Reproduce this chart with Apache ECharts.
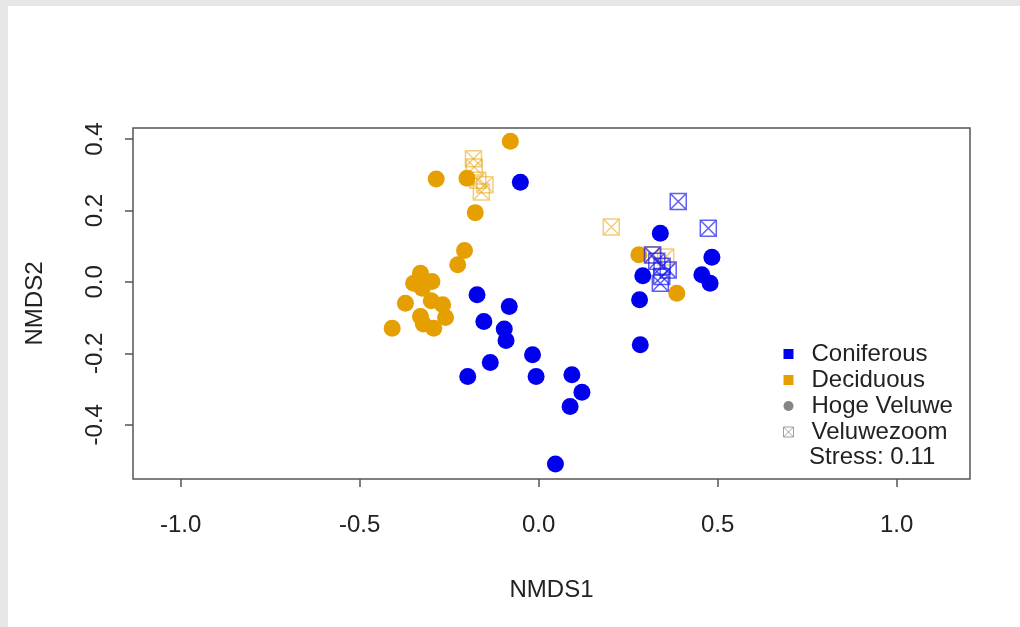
<!DOCTYPE html>
<html>
<head>
<meta charset="utf-8">
<script src="https://cdn.jsdelivr.net/npm/echarts@6/dist/echarts.min.js"></script>
<style>
  html, body { margin: 0; padding: 0; background: #e6e6e6; }
  #chart { position: absolute; left: 8px; top: 6px; width: 1012px; height: 621px; background: #fff; }
</style>
</head>
<body>
<div id="chart"></div>
<script>
// NMDS scores
const coniferousHoge = [
  [-0.051, 0.279], [-0.172, -0.036], [-0.082, -0.069], [-0.153, -0.111],
  [-0.096, -0.132], [-0.091, -0.164], [-0.017, -0.204], [-0.135, -0.226],
  [-0.198, -0.265], [-0.007, -0.265], [0.093, -0.260], [0.121, -0.309],
  [0.088, -0.349], [0.047, -0.510], [0.340, 0.136], [0.484, 0.069],
  [0.291, 0.017], [0.456, 0.020], [0.479, -0.004], [0.282, -0.050],
  [0.284, -0.176]
];
const deciduousHoge = [
  [-0.079, 0.394], [-0.286, 0.288], [-0.200, 0.290], [-0.177, 0.194],
  [-0.207, 0.088], [-0.226, 0.048], [-0.330, 0.024], [-0.349, -0.004],
  [-0.298, 0.001], [-0.325, -0.018], [-0.372, -0.060], [-0.300, -0.053],
  [-0.268, -0.064], [-0.330, -0.097], [-0.260, -0.100], [-0.293, -0.130],
  [-0.322, -0.118], [-0.409, -0.130], [0.280, 0.076], [0.386, -0.032]
];
const deciduousZoom = [
  [-0.182, 0.345], [-0.180, 0.322], [-0.170, 0.285], [-0.150, 0.272],
  [-0.160, 0.252], [0.203, 0.154], [0.320, 0.076], [0.355, 0.070]
];
const coniferousZoom = [
  [0.390, 0.225], [0.474, 0.150], [0.330, 0.058], [0.345, 0.044],
  [0.362, 0.033], [0.344, 0.015], [0.340, -0.004], [0.318, 0.075]
];
const xTicks = [-1.0, -0.5, 0.0, 0.5, 1.0];
const yTicks = [-0.4, -0.2, 0.0, 0.2, 0.4];
const stressText = 'Stress: 0.11';

const BLUE = '#0000EE';
const ORANGE = '#E69F00';
const FONT = 'Liberation Sans, Arial, sans-serif';
const squareX = 'path://M1 1H19V19H1ZM1 1L19 19M19 1L1 19';
const squareIcon = 'path://M0 0H10V10H0Z';

const chart = echarts.init(document.getElementById('chart'), null, {renderer: 'canvas'});

function circles(name, data, color) {
  return {
    type: 'scatter', name: name, data: data, symbol: 'circle', symbolSize: 17,
    itemStyle: {color: color, opacity: 1},
    emphasis: {disabled: true}, silent: true
  };
}
function squares(name, data, color) {
  return {
    type: 'scatter', name: name, data: data, symbol: squareX, symbolSize: 16,
    symbolKeepAspect: true,
    itemStyle: {color: 'rgba(0,0,0,0)', borderColor: color, borderWidth: 1.5},
    emphasis: {disabled: true}, silent: true
  };
}

const option = {
  animation: false,
  grid: {
    left: 125, top: 122, right: 50, bottom: 148,
    show: true, borderColor: '#555', borderWidth: 1.5, backgroundColor: 'transparent'
  },
  xAxis: {
    type: 'value', min: -1.133, max: 1.205,
    name: 'NMDS1', nameLocation: 'middle', nameGap: 99,
    nameTextStyle: {fontSize: 24, color: '#222', fontFamily: FONT},
    axisLine: {show: false, onZero: false},
    axisTick: {show: true, inside: false, length: 8, customValues: xTicks,
      lineStyle: {color: '#555', width: 1.5}},
    axisLabel: {customValues: xTicks, margin: 34, fontSize: 24, color: '#222', fontFamily: FONT,
      formatter: v => v.toFixed(1)},
    splitLine: {show: false}
  },
  yAxis: {
    type: 'value', min: -0.552, max: 0.431,
    name: 'NMDS2', nameLocation: 'middle', nameGap: 86,
    nameTextStyle: {fontSize: 24, color: '#222', fontFamily: FONT},
    axisLine: {show: false, onZero: false},
    axisTick: {show: true, inside: false, length: 8, customValues: yTicks,
      lineStyle: {color: '#555', width: 1.5}},
    axisLabel: {customValues: yTicks, margin: 26, rotate: 90, fontSize: 24, color: '#222', fontFamily: FONT,
      formatter: v => v.toFixed(1)},
    splitLine: {show: false}
  },
  legend: {
    orient: 'vertical', left: 775, top: 335, padding: 0, itemGap: 0,
    itemWidth: 36, itemHeight: 10, selectedMode: false,
    textStyle: {fontSize: 24, color: '#222', fontFamily: FONT, lineHeight: 26},
    data: [
      {name: 'Coniferous', icon: squareIcon, itemStyle: {color: BLUE, borderWidth: 0}},
      {name: 'Deciduous', icon: squareIcon, itemStyle: {color: ORANGE, borderWidth: 0}},
      {name: 'Hoge Veluwe', icon: 'circle', itemStyle: {color: '#666', borderWidth: 0}},
      {name: 'Veluwezoom', icon: squareX, itemStyle: {color: 'rgba(0,0,0,0)', borderColor: '#888', borderWidth: 1}}
    ]
  },
  graphic: [{
    type: 'text', left: 801, top: 439, silent: true,
    style: {text: stressText, fontSize: 24, fill: '#222', fontFamily: FONT}
  }],
  series: [
    circles('Deciduous', deciduousHoge, ORANGE),
    circles('Coniferous', coniferousHoge, BLUE),
    squares('Deciduous VZ', deciduousZoom, 'rgba(230,159,0,0.65)'),
    squares('Coniferous VZ', coniferousZoom, 'rgba(20,20,240,0.85)'),
    {type: 'scatter', name: 'Hoge Veluwe', data: []},
    {type: 'scatter', name: 'Veluwezoom', data: []}
  ]
};

chart && chart.setOption(option);
</script>
</body>
</html>
